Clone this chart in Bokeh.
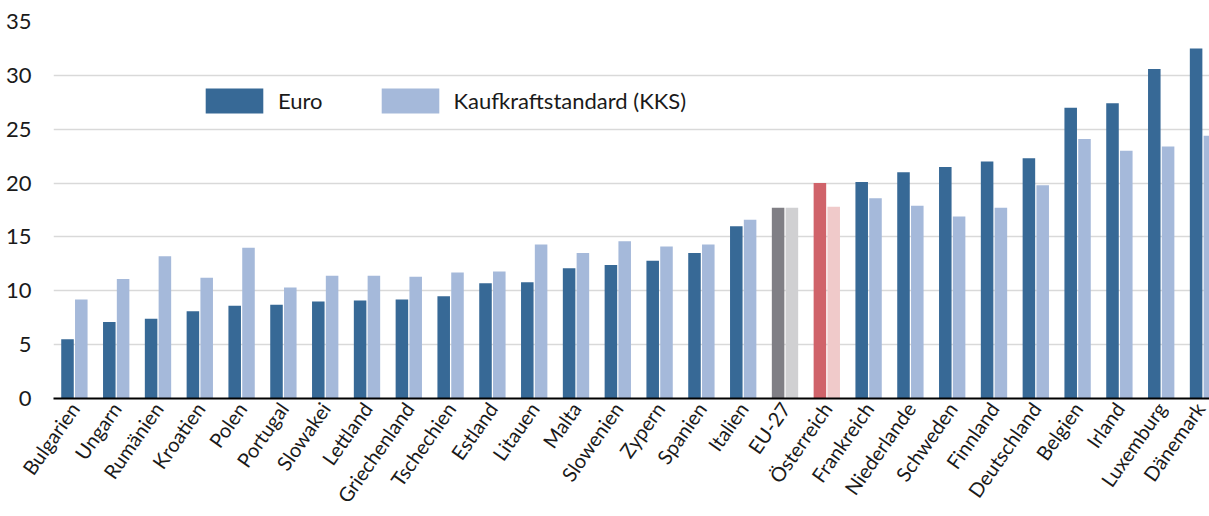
from math import pi
import pandas as pd
from bokeh.plotting import figure
from bokeh.models import (Range1d, FixedTicker, Legend, LegendItem, ColumnDataSource)
from bokeh.transform import dodge
from bokeh.embed import file_html
from bokeh.resources import INLINE

# ---- data ----
countries = ["Bulgarien", "Ungarn", "Rumänien", "Kroatien", "Polen", "Portugal", "Slowakei",
             "Lettland", "Griechenland", "Tschechien", "Estland", "Litauen", "Malta", "Slowenien",
             "Zypern", "Spanien", "Italien", "EU-27", "Österreich", "Frankreich", "Niederlande",
             "Schweden", "Finnland", "Deutschland", "Belgien", "Irland", "Luxemburg", "Dänemark"]
euro = [5.5, 7.1, 7.4, 8.1, 8.6, 8.7, 9.0, 9.1, 9.2, 9.5, 10.7, 10.8, 12.1, 12.4,
        12.8, 13.5, 16.0, 17.7, 20.0, 20.1, 21.0, 21.5, 22.0, 22.3, 27.0, 27.4, 30.6, 32.5]
kks = [9.2, 11.1, 13.2, 11.2, 14.0, 10.3, 11.4, 11.4, 11.3, 11.7, 11.8, 14.3, 13.5, 14.6,
       14.1, 14.3, 16.6, 17.7, 17.8, 18.6, 17.9, 16.9, 17.7, 19.8, 24.1, 23.0, 23.4, 24.4]
y_ticks = [0, 5, 10, 15, 20, 25, 30, 35]

# ---- styles ----
FONT = "Lato"
DARK = "#376996"
LIGHT = "#a5b9da"
highlight = {"EU-27": ("#807f85", "#d0d0d2"), "Österreich": ("#d0636a", "#f0caca")}

df = pd.DataFrame({"country": countries, "euro": euro, "kks": kks})
df["x"] = range(len(df))
df["c_euro"] = [highlight.get(c, (DARK, LIGHT))[0] for c in countries]
df["c_kks"] = [highlight.get(c, (DARK, LIGHT))[1] for c in countries]
src = ColumnDataSource(df)

W, H = 1209, 516
left, top, bottom = 53, 21, 117
step_px = 41.8
x_end = -0.5 + (W - left) / step_px

p = figure(width=W, height=H, x_range=Range1d(-0.5, x_end), y_range=Range1d(0, 35),
           output_backend="svg", toolbar_location=None,
           min_border_left=left, min_border_right=0, min_border_top=top, min_border_bottom=bottom)

p.vbar(x=dodge("x", -0.165, range=p.x_range), top="euro", width=0.3, source=src,
       fill_color="c_euro", line_color=None)
p.vbar(x=dodge("x", 0.165, range=p.x_range), top="kks", width=0.3, source=src,
       fill_color="c_kks", line_color=None)

# legend proxies (zero-height bars, invisible in the plot)
r_e = p.vbar(x=[0], top=[0], bottom=[0], width=0.3, fill_color=DARK, line_color=None)
r_k = p.vbar(x=[0], top=[0], bottom=[0], width=0.3, fill_color=LIGHT, line_color=None)
legend = Legend(items=[LegendItem(label="Euro", renderers=[r_e]),
                       LegendItem(label="Kaufkraftstandard (KKS)", renderers=[r_k])],
                orientation="horizontal", location=(145, 282),
                glyph_width=72, glyph_height=31, label_standoff=8, spacing=51,
                padding=0, margin=0, border_line_color=None, background_fill_alpha=0,
                label_text_font_size="22px", label_text_font=FONT, label_text_color="#1a1a1a",
                label_height=31)
p.add_layout(legend)

p.outline_line_color = None
p.xgrid.visible = False
p.ygrid.grid_line_color = "#d9d9d9"
p.ygrid.grid_line_width = 1.5

xa = p.xaxis[0]
xa.ticker = FixedTicker(ticks=list(range(len(countries))))
xa.major_label_overrides = {i: c for i, c in enumerate(countries)}
xa.major_label_orientation = 0.96
xa.major_tick_line_color = None
xa.minor_tick_line_color = None
xa.axis_line_color = "black"
xa.axis_line_width = 2
xa.major_label_text_font = FONT
xa.major_label_text_font_size = "20px"
xa.major_label_text_color = "#1a1a1a"
xa.major_label_standoff = 0

ya = p.yaxis[0]
ya.ticker = FixedTicker(ticks=y_ticks)
ya.axis_line_color = None
ya.major_tick_line_color = None
ya.minor_tick_line_color = None
ya.major_label_text_font = FONT
ya.major_label_text_font_size = "22px"
ya.major_label_text_color = "#1a1a1a"
ya.major_label_standoff = 16

open("out.html", "w").write(file_html(p, INLINE))
